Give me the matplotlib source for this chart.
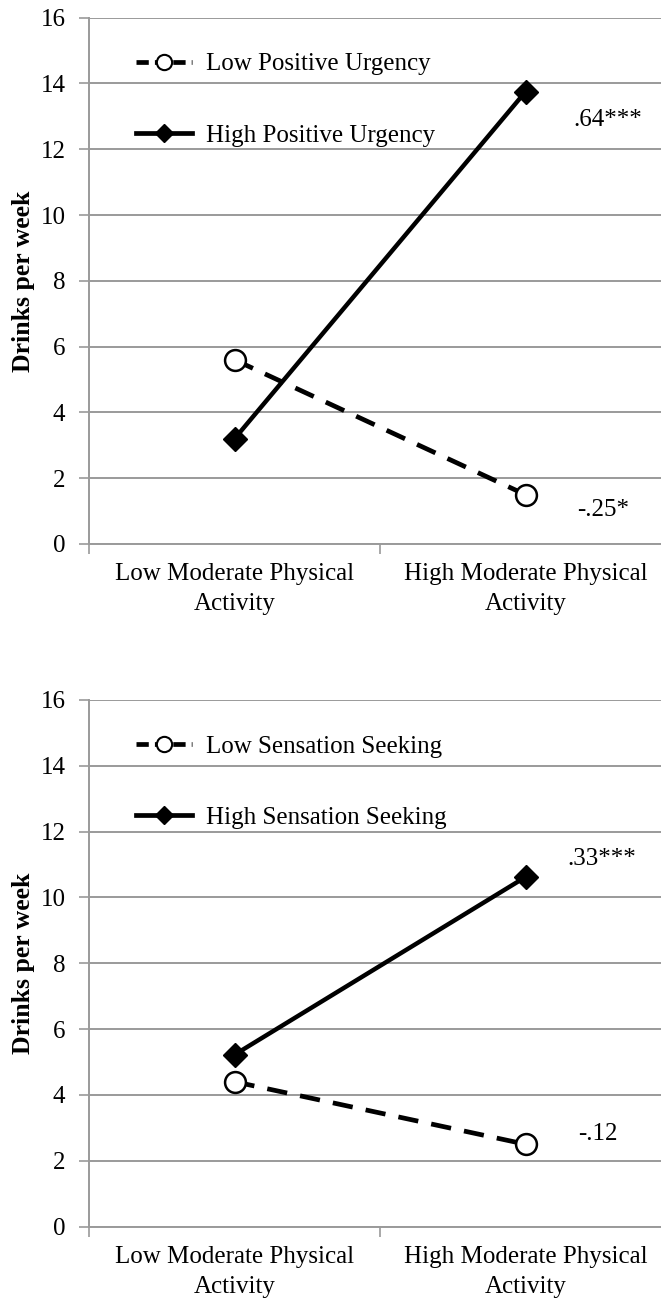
import matplotlib
matplotlib.use("Agg")
import matplotlib.pyplot as plt
from matplotlib.lines import Line2D

# ---- data ----
categories = ["Low Moderate Physical\nActivity", "High Moderate Physical\nActivity"]
yticks = [0, 2, 4, 6, 8, 10, 12, 14, 16]

top_low_label = "Low Positive Urgency"
top_high_label = "High Positive Urgency"
top_low = [5.6, 1.5]
top_high = [3.2, 13.75]
top_low_note = "-.25*"
top_high_note = ".64***"

bot_low_label = "Low Sensation Seeking"
bot_high_label = "High Sensation Seeking"
bot_low = [4.4, 2.5]
bot_high = [5.22, 10.62]
bot_low_note = "-.12"
bot_high_note = ".33***"

ylabel = "Drinks per week"

# ---- style ----
SERIF = ["Liberation Serif", "DejaVu Serif"]
plt.rcParams["font.family"] = SERIF
GRID = "#9a9a9a"
FS = 18

W, H = 661, 1301
fig = plt.figure(figsize=(W / 100, H / 100), dpi=100)

left = 89 / W
width = 582 / W
ax_top = fig.add_axes([left, (H - 544) / H, width, (544 - 17.7) / H])
ax_bot = fig.add_axes([left, (H - 1226.5) / H, width, (1226.5 - 700) / H])


def draw(ax, low, high, low_label, high_label, low_note, high_note,
         low_note_pos, high_note_pos):
    xs = [0.5 + i for i in range(len(categories))]
    ax.plot(xs, low, color="black", lw=3.4, ls=(0, (4.3, 2.8)),
            marker="o", ms=15, mfc="white", mec="black", mew=1.8, zorder=3)
    ax.plot(xs, high, color="black", lw=3.2, ls="-",
            marker="D", ms=12.5, mfc="black", mec="black", zorder=4)

    ax.set_xlim(0, 2)
    ax.set_ylim(0, 16)
    ax.set_yticks(yticks)
    ax.set_yticklabels([str(v) for v in yticks], fontsize=FS)
    ax.set_xticks([0, 1, 2])
    ax.set_xticklabels([])
    ax.set_xticks(xs, minor=True)
    ax.set_xticklabels(categories, minor=True, fontsize=FS, linespacing=1.45)
    ax.tick_params(axis="x", which="minor", length=0, pad=14)
    ax.tick_params(axis="x", which="major", length=7, width=1.2, color=GRID)
    ax.tick_params(axis="y", length=7, width=1.2, color=GRID, pad=10)

    ax.grid(axis="y", color=GRID, lw=1.4)
    ax.set_axisbelow(True)
    for s in ["top", "right"]:
        ax.spines[s].set_visible(False)
    for s in ["left", "bottom"]:
        ax.spines[s].set_color(GRID)
        ax.spines[s].set_linewidth(1.4)

    ax.set_ylabel(ylabel, fontsize=18.5, fontweight="bold")
    ax.yaxis.set_label_coords(-54 / 582, 0.5)

    ax.text(high_note_pos[0], high_note_pos[1], high_note, fontsize=FS,
            ha="center", va="center")
    ax.text(low_note_pos[0], low_note_pos[1], low_note, fontsize=FS,
            ha="center", va="center")

    handles = [
        Line2D([], [], color="black", lw=3.4, ls=(0, (2.6, 1.3)), marker="o",
               ms=11, mfc="white", mec="black", mew=1.5),
        Line2D([], [], color="black", lw=3.4, ls="-", marker="D",
               ms=9.5, mfc="black", mec="black"),
    ]
    ax.legend(handles, [low_label, high_label], loc="upper left",
              bbox_to_anchor=(0.064, 0.952), frameon=False, fontsize=FS,
              handlelength=2.25, handletextpad=0.55, labelspacing=1.95,
              borderaxespad=0)


draw(ax_top, top_low, top_high, top_low_label, top_high_label,
     top_low_note, top_high_note, (1.766, 1.03), (1.784, 12.9))
draw(ax_bot, bot_low, bot_high, bot_low_label, bot_high_label,
     bot_low_note, bot_high_note, (1.75, 2.82), (1.763, 11.16))

fig.savefig("out.png", dpi=100)
